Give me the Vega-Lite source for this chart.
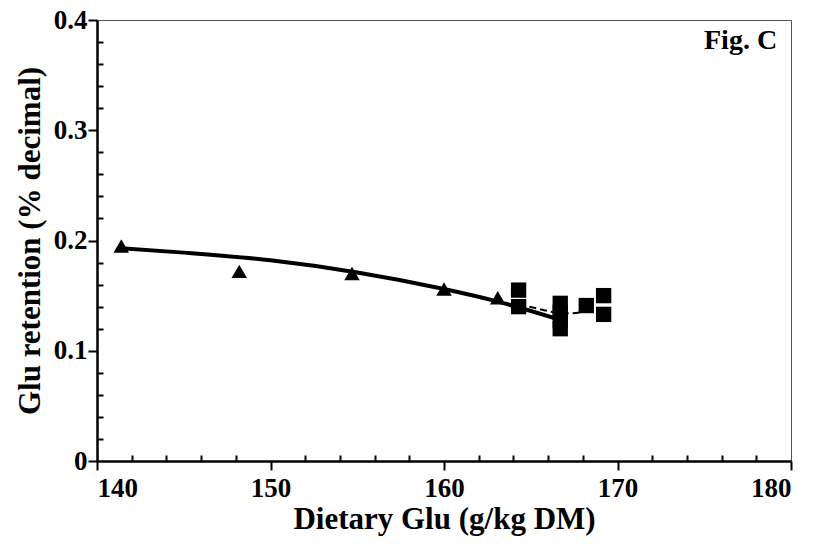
{
  "$schema": "https://vega.github.io/schema/vega-lite/v6.json",
  "width": 694,
  "height": 441,
  "autosize": "none",
  "padding": {"left": 97, "top": 20, "right": 23, "bottom": 86},
  "background": "white",
  "config": {
    "view": {"stroke": "#555", "strokeWidth": 1},
    "axis": {
      "domainColor": "black",
      "domainWidth": 2.5,
      "tickColor": "black",
      "tickWidth": 2,
      "grid": false,
      "labelFont": "Liberation Serif",
      "labelFontWeight": "bold",
      "labelColor": "black",
      "titleFont": "Liberation Serif",
      "titleFontWeight": "bold",
      "titleColor": "black"
    }
  },
  "datasets": {
    "points": [
      {"glu": 141.4, "ret": 0.195, "diet": "A"},
      {"glu": 148.2, "ret": 0.172, "diet": "A"},
      {"glu": 154.7, "ret": 0.170, "diet": "A"},
      {"glu": 160.0, "ret": 0.156, "diet": "A"},
      {"glu": 163.1, "ret": 0.148, "diet": "A"},
      {"glu": 164.3, "ret": 0.155, "diet": "B"},
      {"glu": 164.3, "ret": 0.140, "diet": "B"},
      {"glu": 166.7, "ret": 0.143, "diet": "B"},
      {"glu": 166.7, "ret": 0.135, "diet": "B"},
      {"glu": 166.7, "ret": 0.127, "diet": "B"},
      {"glu": 166.7, "ret": 0.120, "diet": "B"},
      {"glu": 168.2, "ret": 0.141, "diet": "B"},
      {"glu": 169.2, "ret": 0.150, "diet": "B"},
      {"glu": 169.2, "ret": 0.133, "diet": "B"}
    ],
    "fitA": [
      {"glu": 141.4, "ret": 0.193},
      {"glu": 145.0, "ret": 0.189},
      {"glu": 150.0, "ret": 0.182},
      {"glu": 155.0, "ret": 0.171},
      {"glu": 160.0, "ret": 0.156},
      {"glu": 163.0, "ret": 0.145},
      {"glu": 166.7, "ret": 0.128}
    ],
    "fitB": [
      {"glu": 164.3, "ret": 0.142},
      {"glu": 165.2, "ret": 0.139},
      {"glu": 166.0, "ret": 0.136},
      {"glu": 166.7, "ret": 0.134},
      {"glu": 167.4, "ret": 0.134},
      {"glu": 168.2, "ret": 0.136}
    ],
    "caption": [
      {"glu": 179.2, "ret": 0.381, "label": "Fig. C"}
    ]
  },
  "resolve": {"axis": {"x": "independent", "y": "independent"}},
  "layer": [
    {
      "encoding": {
        "x": {
          "field": "glu",
          "type": "quantitative",
          "scale": {"domain": [140, 180], "nice": false, "zero": false},
          "axis": {
            "title": "Dietary Glu (g/kg DM)",
            "values": [140, 150, 160, 170, 180],
            "tickSize": 9,
            "labelFontSize": 27,
            "titleFontSize": 31,
            "labelPadding": 5,
            "titlePadding": 3
          }
        },
        "y": {
          "field": "ret",
          "type": "quantitative",
          "scale": {"domain": [0, 0.4], "nice": false},
          "axis": {
            "title": "Glu retention (% decimal)",
            "values": [0, 0.1, 0.2, 0.3, 0.4],
            "format": ".1~f",
            "tickSize": 9,
            "labelFontSize": 27,
            "titleFontSize": 31,
            "labelPadding": 1,
            "titlePadding": 7
          }
        }
      },
      "layer": [
        {
          "data": {"name": "fitA"},
          "mark": {"type": "line", "color": "black", "strokeWidth": 4, "interpolate": "monotone"}
        },
        {
          "data": {"name": "fitB"},
          "mark": {"type": "line", "color": "black", "strokeWidth": 2, "strokeDash": [7, 4], "interpolate": "monotone"}
        },
        {
          "data": {"name": "points"},
          "transform": [{"filter": "datum.diet === 'A'"}],
          "mark": {"type": "point", "shape": "triangle-up", "filled": true, "color": "black", "opacity": 1, "size": 240}
        },
        {
          "data": {"name": "points"},
          "transform": [{"filter": "datum.diet === 'B'"}],
          "mark": {"type": "point", "shape": "square", "filled": true, "color": "black", "opacity": 1, "size": 235}
        },
        {
          "data": {"name": "caption"},
          "mark": {"type": "text", "align": "right", "baseline": "middle", "font": "Liberation Serif", "fontWeight": "bold", "fontSize": 28, "color": "black"},
          "encoding": {"text": {"field": "label"}}
        }
      ]
    },
    {
      "data": {"name": "points"},
      "mark": {"type": "point", "opacity": 0},
      "encoding": {
        "x": {
          "field": "glu",
          "type": "quantitative",
          "axis": {
            "orient": "top",
            "offset": -441,
            "title": null,
            "labels": false,
            "domain": false,
            "tickSize": 6,
            "values": [142, 144, 146, 148, 152, 154, 156, 158, 162, 164, 166, 168, 172, 174, 176, 178]
          }
        },
        "y": {
          "field": "ret",
          "type": "quantitative",
          "axis": {
            "orient": "right",
            "offset": -694,
            "title": null,
            "labels": false,
            "domain": false,
            "tickSize": 6,
            "values": [0.02, 0.04, 0.06, 0.08, 0.12, 0.14, 0.16, 0.18, 0.22, 0.24, 0.26, 0.28, 0.32, 0.34, 0.36, 0.38]
          }
        }
      }
    }
  ]
}
